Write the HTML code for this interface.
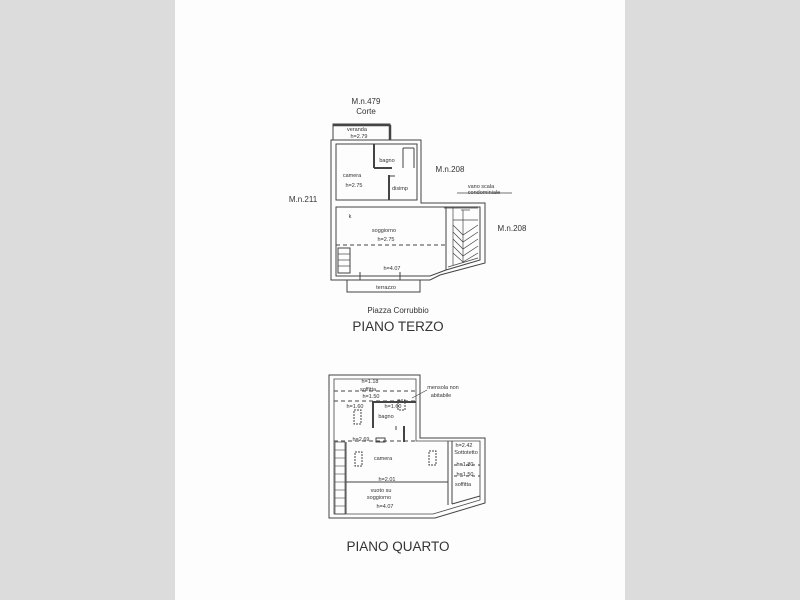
<!DOCTYPE html>
<html><head><meta charset="utf-8"><style>
html,body{margin:0;padding:0;}
body{width:800px;height:600px;background:#dcdcdc;position:relative;overflow:hidden;}
svg{position:absolute;left:0;top:0;}
text{font-family:"Liberation Sans",sans-serif;fill:#333;}
</style></head><body>
<svg width="800" height="600" viewBox="0 0 800 600">
<rect x="175" y="0" width="450" height="600" fill="#fdfdfe"/>
<g fill="none" stroke="#444" stroke-width="1">
<!-- TOP PLAN -->
<rect x="333" y="124" width="57" height="16"/>
<line x1="333" y1="125" x2="390" y2="125" stroke-width="2.5"/>
<line x1="390" y1="125" x2="390" y2="140" stroke-width="2.5"/>
<path d="M331 140 H421 V203 H485 V263 L440 275 L430 280 H331 Z"/>
<path d="M336 144 H417 V200 H336 Z"/>
<path d="M336 207 H446 V270 L430 276 H336 Z"/>
<path d="M446 207 H480 V260 L446 270"/>
<line x1="374" y1="144" x2="374" y2="168" stroke-width="2"/>
<line x1="374" y1="168" x2="392" y2="168" stroke-width="2"/>
<line x1="403" y1="148" x2="414" y2="148"/><line x1="403" y1="148" x2="403" y2="168"/><line x1="414" y1="148" x2="414" y2="168"/>
<line x1="389" y1="175" x2="389" y2="200" stroke-width="2"/>
<line x1="389" y1="176" x2="395" y2="176"/>
<line x1="336" y1="245" x2="446" y2="245" stroke-dasharray="4,3"/>
<rect x="338" y="248" width="12" height="25"/>
<g stroke-width="0.7">
<line x1="338" y1="254" x2="350" y2="254"/><line x1="338" y1="260" x2="350" y2="260"/><line x1="338" y1="266" x2="350" y2="266"/>
<line x1="453" y1="220" x2="478" y2="220"/><line x1="463" y1="210" x2="463" y2="263"/>
<path d="M453 225 L463 235 L478 225 M453 232 L463 242 L478 232 M453 239 L463 249 L478 239 M453 246 L463 256 L478 246 M453 253 L463 262 L478 253"/>
<line x1="453" y1="207" x2="453" y2="265"/>
<line x1="448" y1="267" x2="478" y2="258"/>
<line x1="444" y1="208" x2="478" y2="208"/>
<line x1="461" y1="210" x2="470" y2="210"/>
<line x1="457" y1="193" x2="512" y2="193"/>
</g>
<rect x="347" y="280" width="73" height="12"/>
<line x1="360" y1="272" x2="360" y2="280"/><line x1="400" y1="272" x2="400" y2="280"/>
<!-- BOTTOM PLAN -->
<path d="M329 375 H420 V438 H485 V503 L435 518 H329 Z"/>
<path d="M334 379 H416 V441 H480 V500 L433 514 H334 Z" stroke-width="0.8"/>
<line x1="334" y1="391" x2="416" y2="391" stroke-dasharray="4,3"/>
<line x1="334" y1="401" x2="416" y2="401" stroke-dasharray="4,3"/>
<line x1="334" y1="441" x2="416" y2="441" stroke-dasharray="4,3"/>
<path d="M373 428 V402 H416" stroke-width="2"/>
<line x1="404" y1="426" x2="404" y2="442" stroke-width="2"/>
<line x1="396" y1="426" x2="396" y2="430"/>
<line x1="346" y1="482" x2="448" y2="482"/>
<line x1="448" y1="441" x2="448" y2="505"/>
<line x1="452" y1="441" x2="452" y2="504"/>
<line x1="452" y1="504" x2="480" y2="496"/>
<line x1="454" y1="465" x2="480" y2="465" stroke-dasharray="3,3"/>
<line x1="454" y1="476" x2="480" y2="476" stroke-dasharray="3,3"/>
<rect x="335" y="442" width="10" height="72" stroke-width="0.7"/>
<line x1="346" y1="442" x2="346" y2="514"/>
<g stroke-width="0.6">
<line x1="335" y1="450" x2="345" y2="450"/><line x1="335" y1="458" x2="345" y2="458"/><line x1="335" y1="466" x2="345" y2="466"/><line x1="335" y1="474" x2="345" y2="474"/><line x1="335" y1="482" x2="345" y2="482"/><line x1="335" y1="490" x2="345" y2="490"/><line x1="335" y1="498" x2="345" y2="498"/><line x1="335" y1="506" x2="345" y2="506"/>
</g>
<rect x="354" y="410" width="7" height="14" stroke-dasharray="2,1"/>
<rect x="398" y="400" width="7" height="10" stroke-dasharray="2,1"/>
<rect x="355" y="452" width="7" height="14" stroke-dasharray="2,1"/>
<rect x="429" y="451" width="7" height="14" stroke-dasharray="2,1"/>
<rect x="376" y="438" width="9" height="4"/>
<line x1="412" y1="398" x2="427" y2="390" stroke-width="0.6"/>
</g>
<g font-size="8" text-anchor="middle">
<text x="366" y="104">M.n.479</text>
<text x="366" y="114">Corte</text>
<text x="450" y="172">M.n.208</text>
<text x="303" y="202">M.n.211</text>
<text x="512" y="231">M.n.208</text>
<text x="398" y="313">Piazza Corrubbio</text>
</g>
<g font-size="5.5" text-anchor="middle" fill="#444">
<text x="357" y="131">veranda</text><text x="359" y="138">h=2.79</text>
<text x="387" y="162">bagno</text>
<text x="352" y="177">camera</text><text x="354" y="187">h=2.75</text>
<text x="400" y="190">disimp</text>
<text x="481" y="188">vano scala</text><text x="484" y="194">condominiale</text>
<text x="350" y="218">k</text>
<text x="384" y="232">soggiorno</text><text x="386" y="241">h=2.75</text>
<text x="392" y="270">h=4.07</text>
<text x="386" y="289">terrazzo</text>
<text x="370" y="383">h=1.18</text><text x="368" y="391">soffitta</text>
<text x="371" y="398">h=1.50</text>
<text x="355" y="408">h=1.60</text><text x="393" y="408">h=1.60</text>
<text x="386" y="418">bagno</text>
<text x="361" y="441">h=2.69</text>
<text x="443" y="389">mensola non</text><text x="441" y="397">abitabile</text>
<text x="383" y="460">camera</text>
<text x="387" y="481">h=2.01</text>
<text x="381" y="492">vuoto su</text><text x="379" y="499">soggiorno</text>
<text x="385" y="508">h=4.07</text>
<text x="464" y="447">h=2.42</text><text x="466" y="454">Sottotetto</text>
<text x="465" y="466">h=1.80</text>
<text x="465" y="476">h=1.50</text>
<text x="463" y="486">soffitta</text>
</g>
<g font-size="13.5" text-anchor="middle" fill="#222">
<text x="398" y="331">PIANO TERZO</text>
<text x="398" y="551">PIANO QUARTO</text>
</g>
</svg>
</body></html>
